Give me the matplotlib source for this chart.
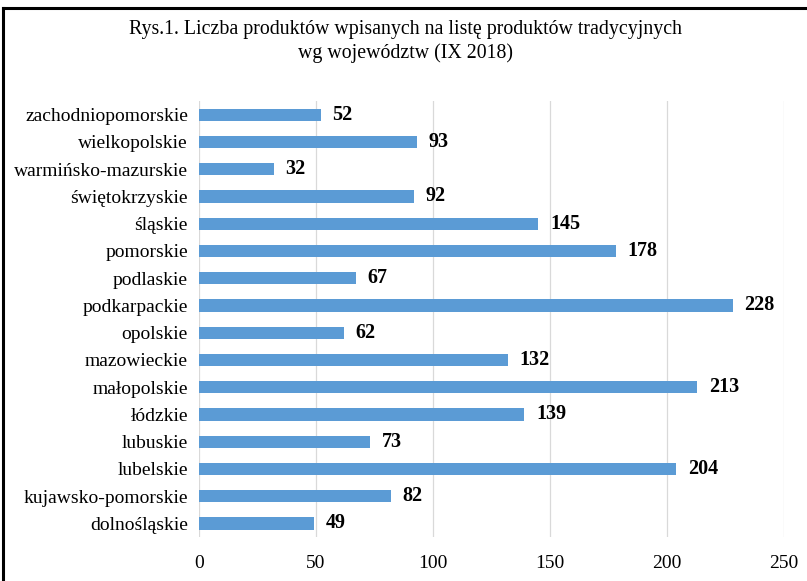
import matplotlib.pyplot as plt
from matplotlib.lines import Line2D

plt.rcParams['font.family'] = ['Liberation Serif', 'DejaVu Serif']

regions = ['dolnośląskie', 'kujawsko-pomorskie', 'lubelskie', 'lubuskie', 'łódzkie',
           'małopolskie', 'mazowieckie', 'opolskie', 'podkarpackie', 'podlaskie',
           'pomorskie', 'śląskie', 'świętokrzyskie', 'warmińsko-mazurskie',
           'wielkopolskie', 'zachodniopomorskie']
counts = [49, 82, 204, 73, 139, 213, 132, 62, 228, 67, 178, 145, 92, 32, 93, 52]
xticks = [0, 50, 100, 150, 200, 250]

fig = plt.figure(figsize=(8.07, 5.81), dpi=100)
ax = fig.add_axes([0.2466, 0.0757, 0.7249, 0.7503])

ypos = list(range(len(regions)))
ax.barh(ypos, counts, height=0.45, color='#5B9BD5', zorder=3)
for y, v in zip(ypos, counts):
    ax.text(v + 5, y, str(v), va='center', ha='left', fontsize=14.5, fontweight='bold')

ax.set_yticks(ypos)
ax.set_yticklabels(regions, fontsize=14)
ax.set_ylim(-0.5, 15.5)
ax.set_xlim(0, 250)
ax.set_xticks(xticks)
ax.tick_params(axis='x', labelsize=14, length=0, pad=13)
ax.tick_params(axis='y', length=0, pad=8)
ax.grid(axis='x', color='#d9d9d9', linewidth=0.9, zorder=0)
for s in ax.spines.values():
    s.set_visible(False)

fig.text(0.502, 0.928, 'Rys.1. Liczba produktów wpisanych na listę produktów tradycyjnych\nwg województw (IX 2018)',
         ha='center', va='center', fontsize=14.3, linespacing=1.3)

# outer frame
fig.add_artist(Line2D([3 / 807, 3 / 807], [0, 1 - 8 / 581], color='black', linewidth=2.2, transform=fig.transFigure))
fig.add_artist(Line2D([3 / 807, 1], [1 - 8 / 581, 1 - 8 / 581], color='black', linewidth=2.2, transform=fig.transFigure))

fig.savefig('out.png', dpi=100)
